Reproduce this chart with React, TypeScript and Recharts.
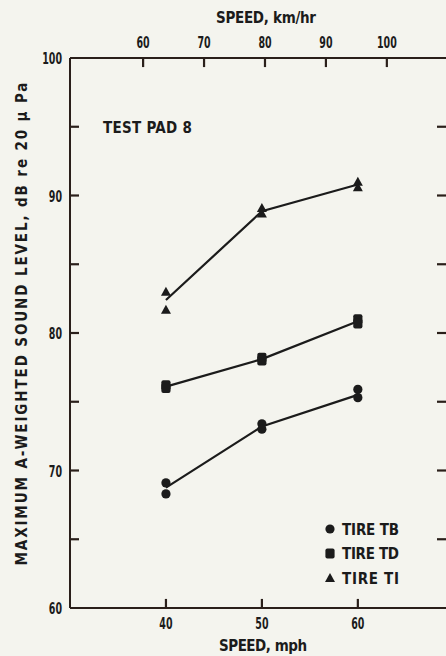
import { ComposedChart, Line, Scatter, XAxis, YAxis, Legend, ReferenceLine } from 'recharts';

// speeds tested (mph)
const mph = [40, 50, 60];

// fitted lines through each tire's readings, dB(A)
const tbLine = [68.75, 73.2, 75.5];
const tdLine = [76.1, 78.1, 80.85];
const tiLine = [82.4, 88.85, 90.8];

// individual runs (two per speed)
const tbRuns = [[69.1, 68.3], [73.4, 73.0], [75.9, 75.3]];
const tdRuns = [[76.2, 76.0], [78.2, 78.0], [81.0, 80.7]];
const tiRuns = [[83.0, 81.7], [89.1, 88.7], [91.0, 90.6]];

const mphTicks = [40, 50, 60];
const kmhTicks = [60, 70, 80, 90, 100];
const dbTicks = [60, 65, 70, 75, 80, 85, 90, 95, 100];
const legendLabels = ['TIRE TB', 'TIRE TD', 'TIRE TI'];
const KMH_PER_MPH = 1.609;

const MPH_DOMAIN = [30, 69.5];
const KMH_DOMAIN = [48, 110.2];
const DB_DOMAIN = [60, 100];
// inward tick lengths, in axis units (about 9-12 px)
const DB_TICK = 0.66;
const MPH_TICK = 0.94;
const MPH_TICK_RIGHT = 1.25;

const INK = '#1b1b1b';
const FRAME = '#2a1f1a';
const FONT = "'Liberation Sans Narrow', 'DejaVu Sans Condensed', Roboto, sans-serif";

const toLine = (values: number[]) => mph.map((m, i) => ({ mph: m, db: values[i] }));
const toRuns = (runs: number[][]) => mph.flatMap((m, i) => runs[i].map((db) => ({ mph: m, db })));
// TI line in km/h, only so the top axis has a series bound to it (not drawn)
const kmhGuide = mph.map((m, i) => ({ kmh: m * KMH_PER_MPH, db: tiLine[i] }));
const innerDb = dbTicks.filter((v) => v > DB_DOMAIN[0] && v < DB_DOMAIN[1]);

function Marker({ kind, cx, cy }: { kind: string; cx: number; cy: number }) {
  if (kind === 'circle') return <circle cx={cx} cy={cy} r={4.6} fill={INK} />;
  if (kind === 'square') return <rect x={cx - 4.6} y={cy - 5} width={9.2} height={10} rx={2} fill={INK} />;
  return <path d={`M${cx},${cy - 5} L${cx + 5},${cy + 4} L${cx - 5},${cy + 4} Z`} fill={INK} />;
}

const labelStyle = { fontFamily: FONT, fontWeight: 700, fontSize: 15, fill: INK };
const numStyle = { fontFamily: FONT, fontWeight: 700, fontSize: 16, fill: INK };

function Num({ x, y, value, anchor }: { x: number; y: number; value: number; anchor: string }) {
  const s = String(value);
  return (
    <text x={x} y={y} textAnchor={anchor} textLength={s.length * 6.6} lengthAdjust="spacingAndGlyphs" {...numStyle}>
      {s}
    </text>
  );
}

function LeftTick({ x, y, payload }: any) {
  return payload.value % 10 === 0 ? <Num x={x - 8} y={y + 6} value={payload.value} anchor="end" /> : <g />;
}

function BottomTick({ x, y, payload }: any) {
  return <Num x={x} y={y + 21} value={payload.value} anchor="middle" />;
}

function TopTick({ x, y, payload }: any) {
  return <Num x={x} y={y - 10} value={payload.value} anchor="middle" />;
}

function TireLegend() {
  const kinds = ['circle', 'square', 'triangle'];
  return (
    <svg width={100} height={70}>
      {legendLabels.map((label, i) => (
        <g key={label}>
          <Marker kind={kinds[i]} cx={7} cy={10 + i * 24.5} />
          <text x={19} y={15.5 + i * 24.5} textLength={57} {...labelStyle}>
            {label}
          </text>
        </g>
      ))}
    </svg>
  );
}

const axisLine = { stroke: FRAME, strokeWidth: 2 };
const tickStroke = { stroke: FRAME, strokeWidth: 2.2, ifOverflow: 'visible' as const };

export default function App() {
  return (
    <div style={{ position: 'relative', width: 446, height: 656, overflow: 'hidden', background: '#f4f4ee' }}>
      <style>{'html, body { margin: 0; padding: 0; overflow: hidden; background: #f4f4ee; }'}</style>
      <ComposedChart width={446} height={656} margin={{ top: 0, right: -9, bottom: 0, left: 0 }}>
        <XAxis type="number" dataKey="mph" domain={MPH_DOMAIN} ticks={mphTicks} allowDataOverflow interval={0}
          height={48} tickSize={0} tickMargin={0} tickLine={false} axisLine={axisLine} tick={<BottomTick />} />
        <XAxis xAxisId="kmh" orientation="top" type="number" dataKey="kmh" domain={KMH_DOMAIN} ticks={kmhTicks}
          allowDataOverflow interval={0} height={58} tickSize={0} tickMargin={0} tickLine={false}
          axisLine={axisLine} tick={<TopTick />} />
        <YAxis type="number" domain={DB_DOMAIN} ticks={dbTicks} allowDataOverflow interval={0} width={70}
          tickSize={0} tickMargin={0} tickLine={false} axisLine={axisLine} tick={<LeftTick />} />
        <YAxis yAxisId="right" orientation="right" type="number" domain={DB_DOMAIN} ticks={dbTicks}
          allowDataOverflow interval={0} width={6} tickSize={0} tickMargin={0} tickLine={false}
          axisLine={axisLine} tick={false} />

        {/* frame top edge and inward ticks, drawn through the axis scales */}
        <ReferenceLine y={DB_DOMAIN[1]} {...tickStroke} />
        {kmhTicks.map((v) => (
          <ReferenceLine key={`k${v}`} xAxisId="kmh" {...tickStroke}
            segment={[{ x: v, y: DB_DOMAIN[1] }, { x: v, y: DB_DOMAIN[1] - DB_TICK }]} />
        ))}
        {mphTicks.map((v) => (
          <ReferenceLine key={`m${v}`} {...tickStroke}
            segment={[{ x: v, y: DB_DOMAIN[0] }, { x: v, y: DB_DOMAIN[0] + DB_TICK }]} />
        ))}
        {innerDb.map((v) => (
          <ReferenceLine key={`l${v}`} {...tickStroke}
            segment={[{ x: MPH_DOMAIN[0], y: v }, { x: MPH_DOMAIN[0] + MPH_TICK, y: v }]} />
        ))}
        {innerDb.map((v) => (
          <ReferenceLine key={`r${v}`} {...tickStroke}
            segment={[{ x: MPH_DOMAIN[1], y: v }, { x: MPH_DOMAIN[1] - MPH_TICK_RIGHT, y: v }]} />
        ))}

        <Line xAxisId="kmh" data={kmhGuide} dataKey="db" stroke="none" dot={false} legendType="none" isAnimationActive={false} />
        <Line data={toLine(tbLine)} dataKey="db" stroke={INK} strokeWidth={2.2} dot={false} isAnimationActive={false} />
        <Line data={toLine(tdLine)} dataKey="db" stroke={INK} strokeWidth={2.2} dot={false} isAnimationActive={false} />
        <Line data={toLine(tiLine)} dataKey="db" stroke={INK} strokeWidth={2.2} dot={false} isAnimationActive={false} />
        <Scatter data={toRuns(tbRuns)} dataKey="db" isAnimationActive={false}
          shape={(p: any) => <Marker kind="circle" cx={p.cx} cy={p.cy} />} />
        <Scatter data={toRuns(tdRuns)} dataKey="db" isAnimationActive={false}
          shape={(p: any) => <Marker kind="square" cx={p.cx} cy={p.cy} />} />
        <Scatter data={toRuns(tiRuns)} dataKey="db" isAnimationActive={false}
          shape={(p: any) => <Marker kind="triangle" cx={p.cx} cy={p.cy} />} />
        <Legend layout="vertical" align="center" verticalAlign="middle"
          wrapperStyle={{ left: 323, top: 519, width: 100, height: 70 }} content={() => <TireLegend />} />
      </ComposedChart>
      <svg width={446} height={656} style={{ position: 'absolute', left: 0, top: 0, pointerEvents: 'none' }}>
        <text x={266} y={23} textAnchor="middle" textLength={100} {...labelStyle}>SPEED, km/hr</text>
        <text x={263} y={651} textAnchor="middle" textLength={88} {...labelStyle}>SPEED, mph</text>
        <text x={103} y={133} textLength={89} {...labelStyle}>TEST PAD 8</text>
        <text x={22} y={324} dy="0.35em" textAnchor="middle" textLength={483} transform="rotate(-90 22 324)" {...labelStyle}>
          MAXIMUM A-WEIGHTED SOUND LEVEL, dB re 20 μ Pa
        </text>
      </svg>
    </div>
  );
}
